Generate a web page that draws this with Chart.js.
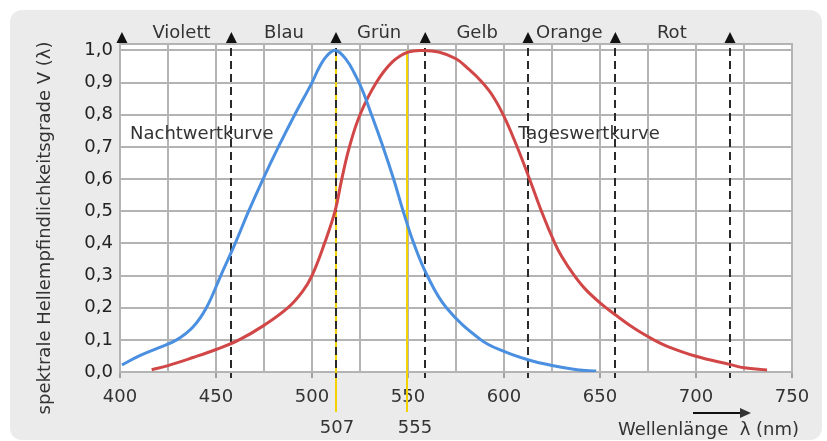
<!DOCTYPE html>
<html>
<head>
<meta charset="utf-8">
<script src="https://cdn.jsdelivr.net/npm/chart.js@4/dist/chart.umd.min.js"></script>
<style>
html,body{margin:0;padding:0;background:#fff}
</style>
</head>
<body>
<canvas id="c" width="827" height="441"></canvas>
<script>
// Nachtwertkurve (skotopisch), Wellenlänge nm / V(λ)
const nightNm = [401,410,420,429.5,438,445,452.5,460,467,474.5,482.5,491,500,504,508,512.5,518,522,526,531,537,542.5,547.5,553,560,570,588,600,612.5,625,638,648]
const nightV  = [0.022,0.05,0.075,0.10,0.14,0.20,0.30,0.40,0.50,0.60,0.70,0.80,0.90,0.95,0.985,1.0,0.97,0.93,0.88,0.80,0.70,0.60,0.50,0.40,0.30,0.20,0.10,0.064,0.038,0.02,0.007,0.003]

// Tageswertkurve (photopisch)
const dayNm = [416.5,425,438,450,462,475,487.5,495,500,506.5,512,515.5,519.5,525,533.5,542,550,558,566,575,581,588,594,600,606.5,613,619.5,626.5,630,636,642,650,658,668,678,685,700,718,725,737]
const dayV  = [0.007,0.02,0.045,0.07,0.10,0.145,0.20,0.25,0.30,0.40,0.50,0.60,0.70,0.80,0.90,0.965,0.995,1.0,0.995,0.974,0.945,0.905,0.86,0.795,0.705,0.605,0.50,0.40,0.36,0.305,0.26,0.215,0.178,0.135,0.10,0.08,0.049,0.023,0.013,0.006]

// Farbbereiche
const bandEdges = [401,458,512.5,559,612.5,658,717.7]
const bandNames = ["Violett","Blau","Grün","Gelb","Orange","Rot"]
const bandLabelNm = [432,485.4,535,586,634,687.4]

// Maxima (gelbe Linien)
const peakNm = [512.5,549.5]
const peakText = ["507","555"]
const peakTextNm = [513,553.6]

const curveNames = ["Nachtwertkurve","Tageswertkurve"]
const curveLabelNm = [405.2,607.4]
const curveLabelV = [0.739,0.739]

const yTicks = [0,0.1,0.2,0.3,0.4,0.5,0.6,0.7,0.8,0.9,1.0]

const FONT = "DejaVu Sans"
const TXT = "#333"

function pts(xs, ys){ return xs.map((v,i)=>({x:v,y:ys[i]})) }

const overlay = {
id:"overlay",
beforeDraw(chart){
const {ctx, chartArea:a} = chart
ctx.save()
ctx.fillStyle="#fff"
ctx.fillRect(0,0,chart.width,chart.height)
ctx.fillStyle="#ebebeb"
ctx.beginPath()
ctx.roundRect(10,10,812,430,12)
ctx.fill()
ctx.fillStyle="#fff"
ctx.fillRect(a.left,a.top,a.right-a.left,a.bottom-a.top)
ctx.restore()
},
beforeDatasetsDraw(chart){
const {ctx, chartArea:a, scales:{x,y}} = chart
ctx.save()
ctx.strokeStyle="#b4b4b4"
ctx.lineWidth=2
ctx.strokeRect(a.left,a.top,a.right-a.left,a.bottom-a.top)

ctx.strokeStyle="#f2d200"
ctx.lineWidth=2
peakNm.forEach(n=>{
const px = Math.round(x.getPixelForValue(n))
ctx.beginPath()
ctx.moveTo(px,y.getPixelForValue(1))
ctx.lineTo(px,a.bottom+40)
ctx.stroke()
})

ctx.strokeStyle="#2a2a2a"
ctx.setLineDash([8,5])
bandEdges.slice(1).forEach(n=>{
const px = Math.round(x.getPixelForValue(n))
ctx.beginPath()
ctx.moveTo(px,a.top+4)
ctx.lineTo(px,a.bottom+6)
ctx.stroke()
})
ctx.restore()
},
afterDraw(chart){
const {ctx, chartArea:a, scales:{x,y}} = chart
ctx.save()
ctx.fillStyle="#111"
bandEdges.forEach(n=>{
const px = x.getPixelForValue(n)
ctx.beginPath()
ctx.moveTo(px,a.top-12)
ctx.lineTo(px+5.5,a.top-1)
ctx.lineTo(px-5.5,a.top-1)
ctx.closePath()
ctx.fill()
})

ctx.fillStyle=TXT
ctx.font="18px '"+FONT+"'"
ctx.textAlign="center"
ctx.textBaseline="middle"
bandNames.forEach((t,i)=>ctx.fillText(t,x.getPixelForValue(bandLabelNm[i]),33))

peakText.forEach((t,i)=>ctx.fillText(t,x.getPixelForValue(peakTextNm[i]),428))

ctx.textAlign="left"
curveNames.forEach((t,i)=>ctx.fillText(t,x.getPixelForValue(curveLabelNm[i]),y.getPixelForValue(curveLabelV[i])))

// Achsentitel x
ctx.fillText("Wellenlänge  λ (nm)",618,430)
ctx.strokeStyle="#111"
ctx.lineWidth=2
ctx.beginPath()
ctx.moveTo(693,413)
ctx.lineTo(742,413)
ctx.stroke()
ctx.beginPath()
ctx.moveTo(751,413)
ctx.lineTo(740,408)
ctx.lineTo(740,418)
ctx.closePath()
ctx.fill()

// Achsentitel y
ctx.translate(45,228)
ctx.rotate(-Math.PI/2)
ctx.textAlign="center"
ctx.fillText("spektrale Hellempfindlichkeitsgrade V (λ)",0,0)
ctx.restore()
}
}

new Chart(document.getElementById("c"),{
type:"line",
data:{
datasets:[{
label:curveNames[0],
data:pts(nightNm,nightV),
borderColor:"#4a8fe0",
borderWidth:3,
pointRadius:0,
tension:0.4,
fill:false
},{
label:curveNames[1],
data:pts(dayNm,dayV),
borderColor:"#d14646",
borderWidth:3,
pointRadius:0,
tension:0.4,
fill:false
}]
},
options:{
responsive:false,
animation:false,
layout:{padding:{top:44,right:35,bottom:0,left:0}},
plugins:{legend:{display:false},tooltip:{enabled:false}},
scales:{
x:{
type:"linear",
min:400,
max:750,
afterFit:s=>{s.height=69},
ticks:{
stepSize:25,
autoSkip:false,
maxRotation:0,
padding:9,
color:TXT,
font:{family:FONT,size:18},
callback:v=>v%50===0?String(v):""
},
grid:{
color:"#b4b4b4",
lineWidth:2,
tickLength:6,
tickColor:c=>c.tick && c.tick.value%50===0?"#a0a0a0":"rgba(0,0,0,0)"
},
border:{color:"#b4b4b4",width:2}
},
y:{
min:0,
max:1.02,
afterFit:s=>{s.width=120},
afterBuildTicks:s=>{s.ticks=yTicks.map(v=>({value:v}))},
ticks:{
padding:7,
color:"#222",
font:{family:FONT,size:18},
callback:v=>v.toFixed(1).replace(".",",")
},
grid:{color:"#b4b4b4",lineWidth:2,drawTicks:false},
border:{color:"#b4b4b4",width:2}
}
}
},
plugins:[overlay]
})
</script>
</body>
</html>
